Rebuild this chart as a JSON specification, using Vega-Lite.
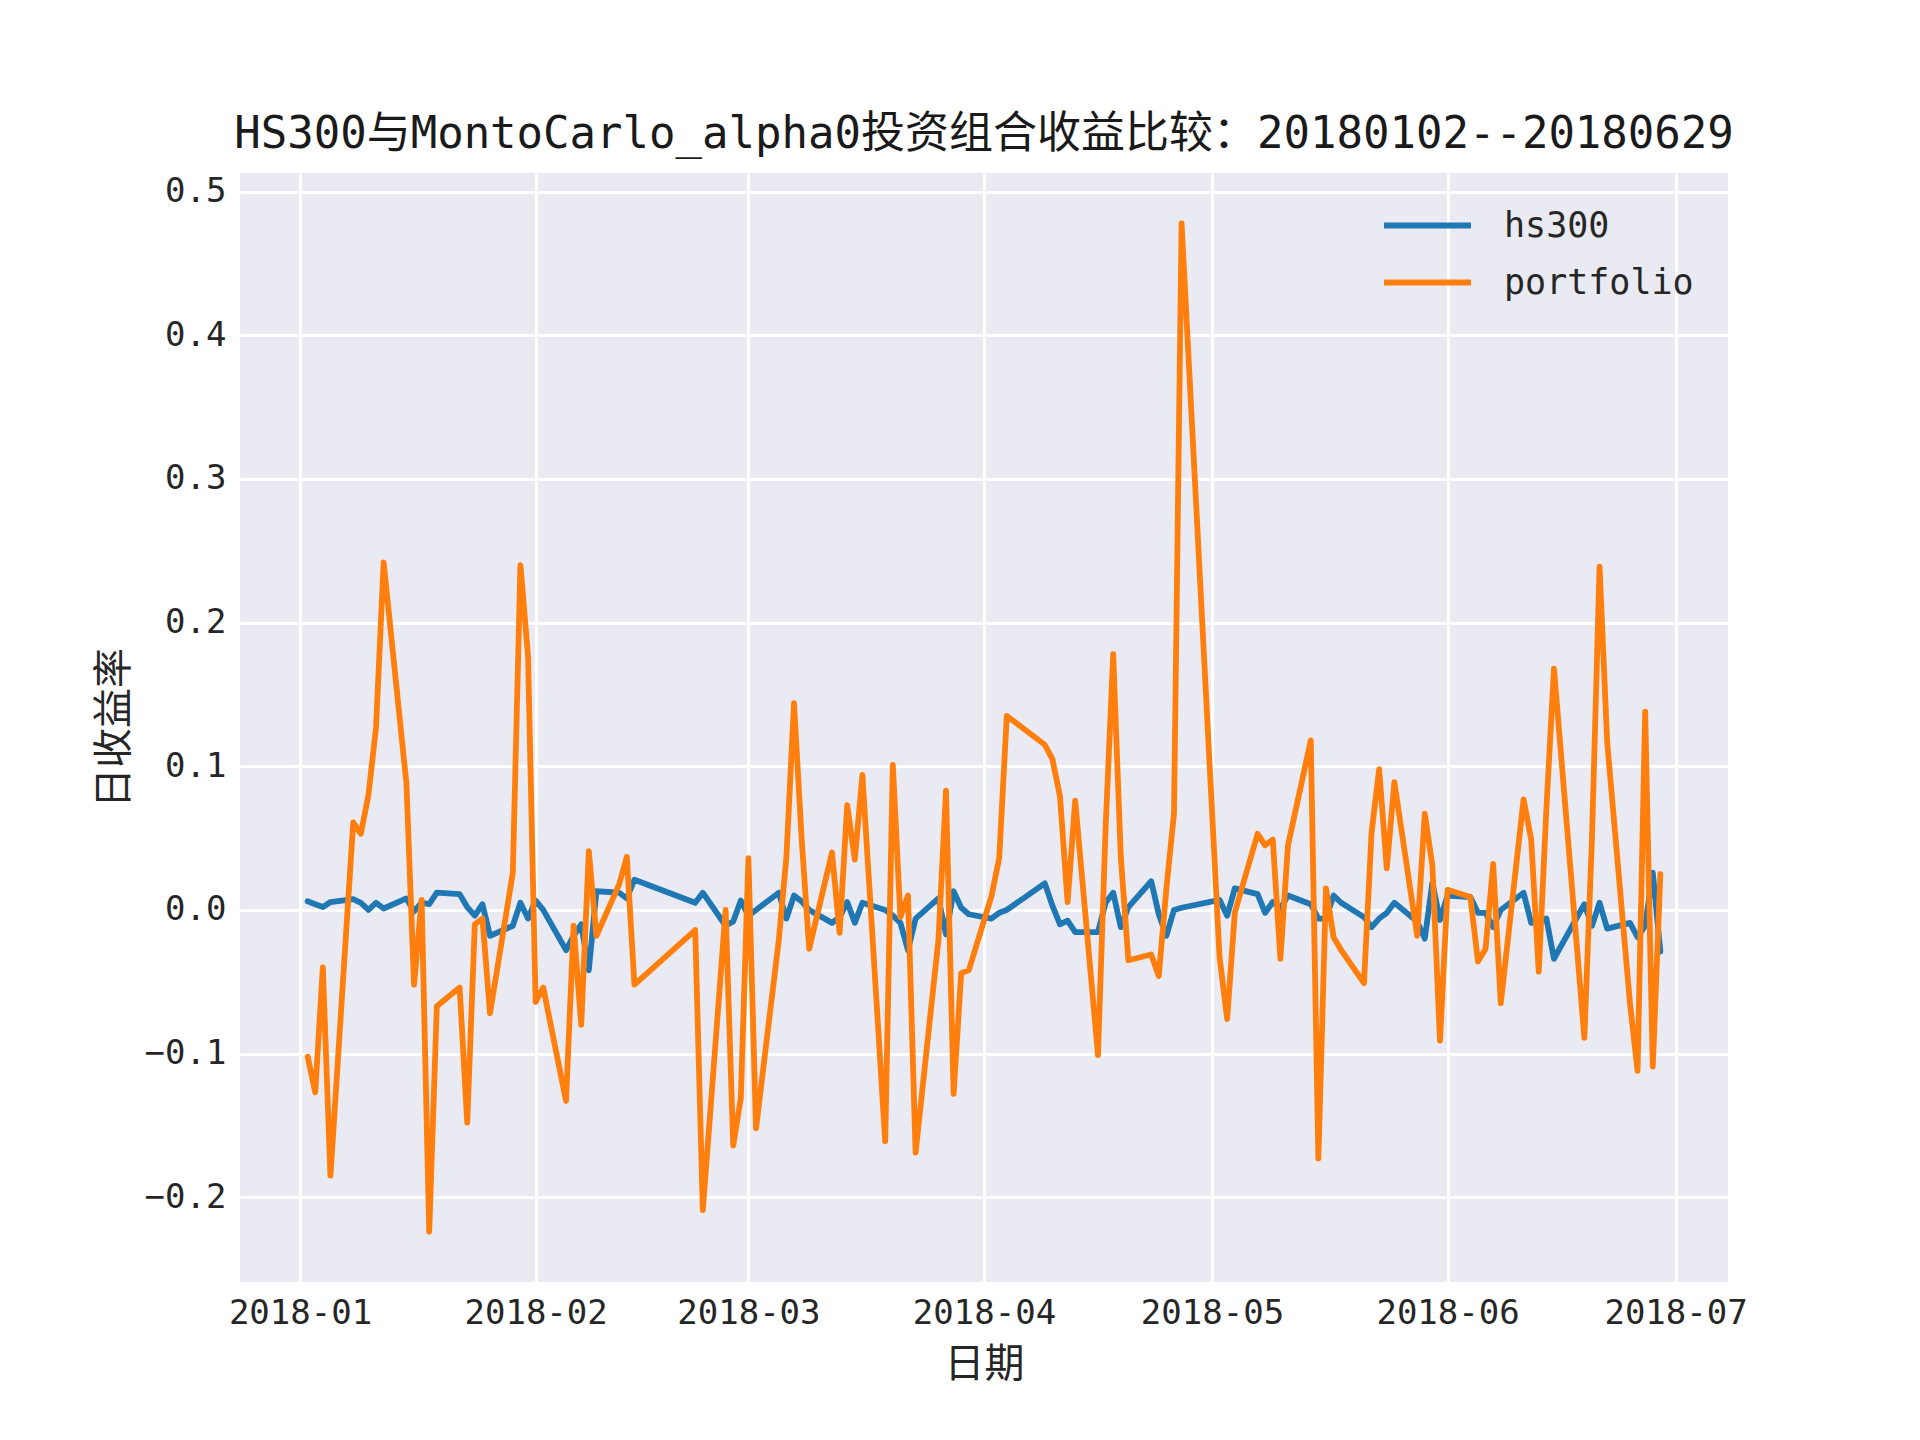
{
  "$schema": "https://vega.github.io/schema/vega-lite/v6.json",
  "width": 1488,
  "height": 1109,
  "autosize": {"type": "none"},
  "padding": {"left": 240, "top": 173, "right": 192, "bottom": 158},
  "background": "white",
  "title": {
    "text": "HS300与MontoCarlo_alpha0投资组合收益比较：20180102--20180629",
    "font": "DejaVu Sans Mono, Noto Sans CJK SC",
    "fontSize": 44,
    "fontWeight": "normal",
    "color": "#1a1a1a",
    "anchor": "middle",
    "offset": 16
  },
  "config": {
    "view": {"fill": "#EAEAF2", "stroke": null},
    "axis": {
      "domain": false,
      "ticks": false,
      "gridColor": "white",
      "gridWidth": 3,
      "gridOpacity": 1,
      "labelFont": "DejaVu Sans Mono, Noto Sans CJK SC",
      "labelFontSize": 34,
      "labelColor": "#262626",
      "titleFont": "Noto Sans CJK SC",
      "titleFontSize": 40,
      "titleFontWeight": "normal",
      "titleColor": "#262626"
    },
    "legend": {
      "orient": "none",
      "legendX": 1141,
      "legendY": 24,
      "symbolType": "stroke",
      "symbolSize": 7569,
      "symbolStrokeWidth": 6,
      "labelFont": "DejaVu Sans Mono, Noto Sans CJK SC",
      "labelFontSize": 35,
      "labelColor": "#262626",
      "labelOffset": 30,
      "labelLimit": 0,
      "clipHeight": 57,
      "rowPadding": 0
    }
  },
  "data": {
    "values": [
      {"date": "2018-01-02", "hs300": 0.006, "portfolio": -0.102},
      {"date": "2018-01-03", "hs300": 0.004, "portfolio": -0.127},
      {"date": "2018-01-04", "hs300": 0.002, "portfolio": -0.040},
      {"date": "2018-01-05", "hs300": 0.0055, "portfolio": -0.185},
      {"date": "2018-01-08", "hs300": 0.0075, "portfolio": 0.061},
      {"date": "2018-01-09", "hs300": 0.005, "portfolio": 0.053},
      {"date": "2018-01-10", "hs300": 0.0, "portfolio": 0.080},
      {"date": "2018-01-11", "hs300": 0.005, "portfolio": 0.127},
      {"date": "2018-01-12", "hs300": 0.001, "portfolio": 0.242},
      {"date": "2018-01-15", "hs300": 0.008, "portfolio": 0.088},
      {"date": "2018-01-16", "hs300": -0.001, "portfolio": -0.052},
      {"date": "2018-01-17", "hs300": 0.005, "portfolio": 0.007},
      {"date": "2018-01-18", "hs300": 0.004, "portfolio": -0.224},
      {"date": "2018-01-19", "hs300": 0.012, "portfolio": -0.067},
      {"date": "2018-01-22", "hs300": 0.011, "portfolio": -0.054},
      {"date": "2018-01-23", "hs300": 0.002, "portfolio": -0.148},
      {"date": "2018-01-24", "hs300": -0.004, "portfolio": -0.010},
      {"date": "2018-01-25", "hs300": 0.004, "portfolio": -0.006},
      {"date": "2018-01-26", "hs300": -0.018, "portfolio": -0.072},
      {"date": "2018-01-29", "hs300": -0.011, "portfolio": 0.026},
      {"date": "2018-01-30", "hs300": 0.005, "portfolio": 0.240},
      {"date": "2018-01-31", "hs300": -0.006, "portfolio": 0.177},
      {"date": "2018-02-01", "hs300": 0.0065, "portfolio": -0.064},
      {"date": "2018-02-02", "hs300": 0.0, "portfolio": -0.054},
      {"date": "2018-02-05", "hs300": -0.028, "portfolio": -0.133},
      {"date": "2018-02-06", "hs300": -0.018, "portfolio": -0.011},
      {"date": "2018-02-07", "hs300": -0.010, "portfolio": -0.080},
      {"date": "2018-02-08", "hs300": -0.042, "portfolio": 0.041},
      {"date": "2018-02-09", "hs300": 0.013, "portfolio": -0.018},
      {"date": "2018-02-12", "hs300": 0.012, "portfolio": 0.018},
      {"date": "2018-02-13", "hs300": 0.008, "portfolio": 0.037},
      {"date": "2018-02-14", "hs300": 0.021, "portfolio": -0.052},
      {"date": "2018-02-22", "hs300": 0.005, "portfolio": -0.014},
      {"date": "2018-02-23", "hs300": 0.012, "portfolio": -0.209},
      {"date": "2018-02-26", "hs300": -0.011, "portfolio": 0.0},
      {"date": "2018-02-27", "hs300": -0.008, "portfolio": -0.164},
      {"date": "2018-02-28", "hs300": 0.0065, "portfolio": -0.131},
      {"date": "2018-03-01", "hs300": -0.004, "portfolio": 0.036},
      {"date": "2018-03-02", "hs300": 0.0, "portfolio": -0.152},
      {"date": "2018-03-05", "hs300": 0.012, "portfolio": -0.021},
      {"date": "2018-03-06", "hs300": -0.006, "portfolio": 0.037},
      {"date": "2018-03-07", "hs300": 0.010, "portfolio": 0.144},
      {"date": "2018-03-08", "hs300": 0.006, "portfolio": 0.050},
      {"date": "2018-03-09", "hs300": 0.0, "portfolio": -0.027},
      {"date": "2018-03-12", "hs300": -0.009, "portfolio": 0.040},
      {"date": "2018-03-13", "hs300": -0.005, "portfolio": -0.016},
      {"date": "2018-03-14", "hs300": 0.0055, "portfolio": 0.073},
      {"date": "2018-03-15", "hs300": -0.009, "portfolio": 0.035},
      {"date": "2018-03-16", "hs300": 0.005, "portfolio": 0.094},
      {"date": "2018-03-19", "hs300": 0.0, "portfolio": -0.161},
      {"date": "2018-03-20", "hs300": -0.004, "portfolio": 0.101},
      {"date": "2018-03-21", "hs300": -0.009, "portfolio": -0.005},
      {"date": "2018-03-22", "hs300": -0.028, "portfolio": 0.010},
      {"date": "2018-03-23", "hs300": -0.006, "portfolio": -0.169},
      {"date": "2018-03-26", "hs300": 0.008, "portfolio": -0.021},
      {"date": "2018-03-27", "hs300": -0.017, "portfolio": 0.083},
      {"date": "2018-03-28", "hs300": 0.013, "portfolio": -0.128},
      {"date": "2018-03-29", "hs300": 0.0015, "portfolio": -0.044},
      {"date": "2018-03-30", "hs300": -0.003, "portfolio": -0.042},
      {"date": "2018-04-02", "hs300": -0.006, "portfolio": 0.010},
      {"date": "2018-04-03", "hs300": -0.002, "portfolio": 0.036},
      {"date": "2018-04-04", "hs300": 0.0, "portfolio": 0.135},
      {"date": "2018-04-09", "hs300": 0.0185, "portfolio": 0.115},
      {"date": "2018-04-10", "hs300": 0.003, "portfolio": 0.105},
      {"date": "2018-04-11", "hs300": -0.010, "portfolio": 0.079},
      {"date": "2018-04-12", "hs300": -0.0075, "portfolio": 0.0055},
      {"date": "2018-04-13", "hs300": -0.0155, "portfolio": 0.076},
      {"date": "2018-04-16", "hs300": -0.0155, "portfolio": -0.101},
      {"date": "2018-04-17", "hs300": 0.005, "portfolio": 0.057},
      {"date": "2018-04-18", "hs300": 0.012, "portfolio": 0.178},
      {"date": "2018-04-19", "hs300": -0.012, "portfolio": 0.037},
      {"date": "2018-04-20", "hs300": 0.002, "portfolio": -0.035},
      {"date": "2018-04-23", "hs300": 0.020, "portfolio": -0.031},
      {"date": "2018-04-24", "hs300": -0.003, "portfolio": -0.046},
      {"date": "2018-04-25", "hs300": -0.018, "portfolio": 0.015},
      {"date": "2018-04-26", "hs300": 0.0, "portfolio": 0.067},
      {"date": "2018-04-27", "hs300": 0.0015, "portfolio": 0.478},
      {"date": "2018-05-02", "hs300": 0.007, "portfolio": -0.033},
      {"date": "2018-05-03", "hs300": -0.004, "portfolio": -0.076},
      {"date": "2018-05-04", "hs300": 0.015, "portfolio": -0.002},
      {"date": "2018-05-07", "hs300": 0.011, "portfolio": 0.053},
      {"date": "2018-05-08", "hs300": -0.002, "portfolio": 0.045},
      {"date": "2018-05-09", "hs300": 0.0055, "portfolio": 0.049},
      {"date": "2018-05-10", "hs300": 0.001, "portfolio": -0.034},
      {"date": "2018-05-11", "hs300": 0.010, "portfolio": 0.045},
      {"date": "2018-05-14", "hs300": 0.004, "portfolio": 0.118},
      {"date": "2018-05-15", "hs300": -0.006, "portfolio": -0.173},
      {"date": "2018-05-16", "hs300": -0.006, "portfolio": 0.015},
      {"date": "2018-05-17", "hs300": 0.010, "portfolio": -0.019},
      {"date": "2018-05-18", "hs300": 0.005, "portfolio": -0.028},
      {"date": "2018-05-21", "hs300": -0.005, "portfolio": -0.051},
      {"date": "2018-05-22", "hs300": -0.012, "portfolio": 0.054},
      {"date": "2018-05-23", "hs300": -0.006, "portfolio": 0.098},
      {"date": "2018-05-24", "hs300": -0.002, "portfolio": 0.029},
      {"date": "2018-05-25", "hs300": 0.005, "portfolio": 0.089},
      {"date": "2018-05-28", "hs300": -0.008, "portfolio": -0.018},
      {"date": "2018-05-29", "hs300": -0.020, "portfolio": 0.067},
      {"date": "2018-05-30", "hs300": 0.019, "portfolio": 0.031},
      {"date": "2018-05-31", "hs300": -0.007, "portfolio": -0.091},
      {"date": "2018-06-01", "hs300": 0.010, "portfolio": 0.014},
      {"date": "2018-06-04", "hs300": 0.009, "portfolio": 0.009},
      {"date": "2018-06-05", "hs300": -0.002, "portfolio": -0.036},
      {"date": "2018-06-06", "hs300": -0.002, "portfolio": -0.027},
      {"date": "2018-06-07", "hs300": -0.012, "portfolio": 0.032},
      {"date": "2018-06-08", "hs300": 0.0, "portfolio": -0.065},
      {"date": "2018-06-11", "hs300": 0.012, "portfolio": 0.077},
      {"date": "2018-06-12", "hs300": -0.009, "portfolio": 0.049},
      {"date": "2018-06-13", "hs300": -0.008, "portfolio": -0.043},
      {"date": "2018-06-14", "hs300": -0.006, "portfolio": 0.070},
      {"date": "2018-06-15", "hs300": -0.034, "portfolio": 0.168},
      {"date": "2018-06-19", "hs300": 0.004, "portfolio": -0.089},
      {"date": "2018-06-20", "hs300": -0.011, "portfolio": 0.050},
      {"date": "2018-06-21", "hs300": 0.005, "portfolio": 0.239},
      {"date": "2018-06-22", "hs300": -0.013, "portfolio": 0.117},
      {"date": "2018-06-25", "hs300": -0.009, "portfolio": -0.065},
      {"date": "2018-06-26", "hs300": -0.019, "portfolio": -0.112},
      {"date": "2018-06-27", "hs300": -0.011, "portfolio": 0.138},
      {"date": "2018-06-28", "hs300": 0.026, "portfolio": -0.109},
      {"date": "2018-06-29", "hs300": -0.029, "portfolio": 0.025}
    ]
  },
  "encoding": {
    "x": {
      "field": "date",
      "type": "temporal",
      "title": "日期",
      "scale": {
        "type": "utc",
        "domain": [
          {"year": 2017, "month": 12, "date": 24, "hours": 2, "minutes": 24, "utc": true},
          {"year": 2018, "month": 7, "date": 7, "hours": 21, "minutes": 36, "utc": true}
        ]
      },
      "axis": {
        "format": "%Y-%m",
        "values": [
          {"year": 2018, "month": 1, "date": 1, "utc": true},
          {"year": 2018, "month": 2, "date": 1, "utc": true},
          {"year": 2018, "month": 3, "date": 1, "utc": true},
          {"year": 2018, "month": 4, "date": 1, "utc": true},
          {"year": 2018, "month": 5, "date": 1, "utc": true},
          {"year": 2018, "month": 6, "date": 1, "utc": true},
          {"year": 2018, "month": 7, "date": 1, "utc": true}
        ],
        "labelPadding": 14,
        "labelFlush": false,
        "labelOverlap": false,
        "titlePadding": 14
      }
    },
    "color": {
      "scale": {"domain": ["hs300", "portfolio"], "range": ["#1f77b4", "#ff7f0e"]},
      "legend": {"title": null}
    }
  },
  "layer": [
    {
      "mark": {"type": "line", "strokeWidth": 5.8, "strokeCap": "round", "strokeJoin": "round", "clip": true},
      "encoding": {
        "y": {
          "field": "hs300",
          "type": "quantitative",
          "title": "日收益率",
          "scale": {"domain": [-0.259, 0.513], "nice": false, "zero": false},
          "axis": {
            "values": [-0.2, -0.1, 0, 0.1, 0.2, 0.3, 0.4, 0.5],
            "format": ".1f",
            "labelPadding": 14,
            "titlePadding": 10
          }
        },
        "color": {"datum": "hs300"}
      }
    },
    {
      "mark": {"type": "line", "strokeWidth": 5.8, "strokeCap": "round", "strokeJoin": "round", "clip": true},
      "encoding": {
        "y": {"field": "portfolio", "type": "quantitative"},
        "color": {"datum": "portfolio"}
      }
    }
  ]
}
